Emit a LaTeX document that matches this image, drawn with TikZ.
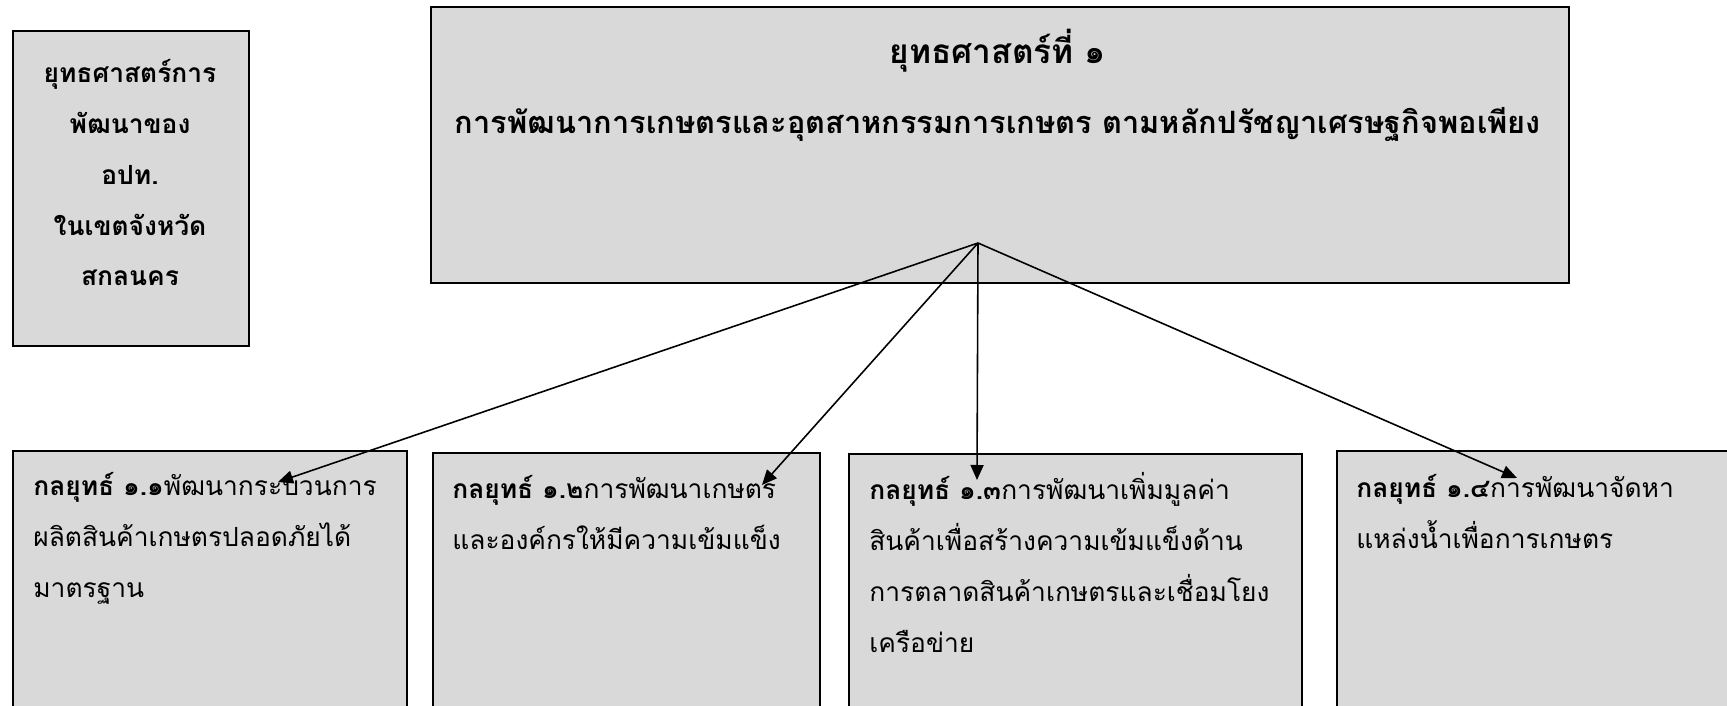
\documentclass[tikz,border=0pt]{standalone}
\usepackage{fontspec}
\setmainfont[Script=Thai]{Loma}
\usepackage{tikz}
\usetikzlibrary{positioning,arrows.meta}
\usepackage{xcolor}
\definecolor{panelc}{RGB}{217,217,217}
\tikzset{
  panel/.style={rectangle,draw=black,line width=1.1pt,fill=panelc,inner sep=0pt,anchor=north west},
  ptext/.style={inner sep=0pt,font=\fontsize{15}{29}\selectfont},
  % arrows from the strategy box down to each sub-strategy
  link/.style={-{Triangle[length=3mm,width=2.6mm]},line width=0.9pt,black},
}

\begin{document}
\begin{tikzpicture}[
  lhead/.style={ptext,anchor=base,align=center,font=\bfseries\fontsize{15}{29}\selectfont},
  thead/.style={ptext,anchor=base,align=center,font=\bfseries\fontsize{17.5}{29}\selectfont},
  sub/.style={ptext,anchor=base west,align=left}]
  \useasboundingbox (0,0) rectangle (34.54,-14.12);
  \clip (0,0) rectangle (34.54,-14.12);
  % ---- left: the heading box ----
  \node[panel,minimum width=4.72cm,minimum height=6.30cm] (side) at (0.24,-0.60) {};
  % (multi-line nodes sit on the baseline of their last line)
  \node[lhead] (sideT) at (2.60,-5.72)
    {ยุทธศาสตร์การ\\พัฒนาของ\\อปท.\\ในเขตจังหวัด\\สกลนคร};
  % ---- top: strategy 1 ----
  \node[panel,minimum width=22.76cm,minimum height=5.51cm] (strat) at (8.60,-0.13) {};
  \node[thead] (stratT) at (19.96,-2.67)
    {{\fontsize{19}{29}\selectfont ยุทธศาสตร์ที่ ๑}\\[11pt]การพัฒนาการเกษตรและอุตสาหกรรมการเกษตร ตามหลักปรัชญาเศรษฐกิจพอเพียง};
  % ---- bottom: the four sub-strategies ----
  \node[panel,minimum width=7.88cm,minimum height=6cm] (s1) at (0.24,-9.00) {};
  \node[panel,minimum width=7.74cm,minimum height=6cm] (s2) at (8.64,-9.04) {};
  \node[panel,minimum width=9.06cm,minimum height=6cm] (s3) at (16.96,-9.06) {};
  \node[panel,minimum width=9.00cm,minimum height=6cm] (s4) at (26.72,-9.00) {};
  \node[sub] (s1T) at (0.66,-11.95)
    {\textbf{กลยุทธ์ ๑.๑}พัฒนากระบวนการ\\ผลิตสินค้าเกษตรปลอดภัยได้\\มาตรฐาน};
  \node[sub] (s2T) at (9.04,-10.99)
    {\textbf{กลยุทธ์ ๑.๒}การพัฒนาเกษตร\\และองค์กรให้มีความเข้มแข็ง};
  \node[sub] (s3T) at (17.38,-13.05)
    {\textbf{กลยุทธ์ ๑.๓}การพัฒนาเพิ่มมูลค่า\\สินค้าเพื่อสร้างความเข้มแข็งด้าน\\การตลาดสินค้าเกษตรและเชื่อมโยง\\เครือข่าย};
  \node[sub] (s4T) at (27.12,-10.97)
    {\textbf{กลยุทธ์ ๑.๔}การพัฒนาจัดหา\\แหล่งน้ำเพื่อการเกษตร};
  % ---- links: one point in the strategy box, fanning out ----
  \coordinate (hub) at (19.56,-4.86);
  \coordinate (e1) at (5.56,-9.64);
  \coordinate (e2) at (15.24,-9.70);
  \coordinate (e3) at (19.54,-9.60);
  \coordinate (e4) at (30.34,-9.56);
  \draw[link] (hub) -- (e1);
  \draw[link] (hub) -- (e2);
  \draw[link] (hub) -- (e3);
  \draw[link] (hub) -- (e4);
\end{tikzpicture}
\end{document}
